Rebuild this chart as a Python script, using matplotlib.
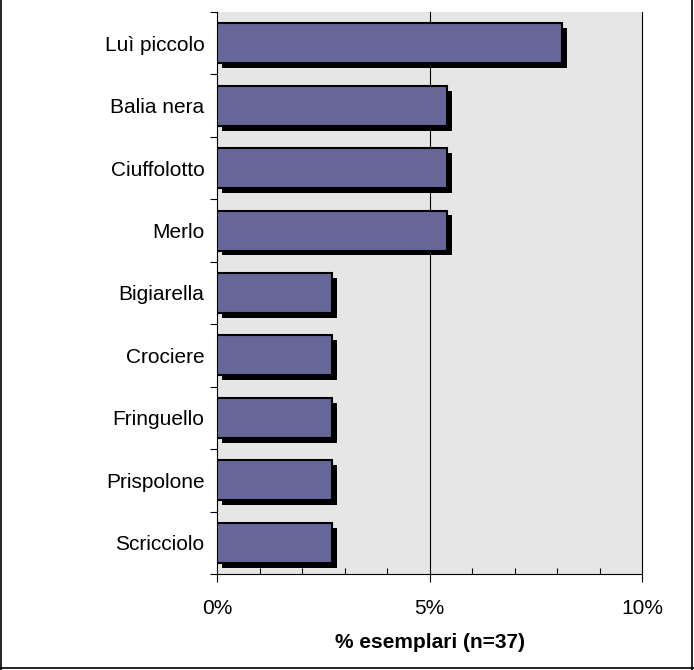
import matplotlib.pyplot as plt
import matplotlib.patheffects as pe
from matplotlib.lines import Line2D
from matplotlib.ticker import FuncFormatter, MultipleLocator
import numpy as np

plt.rcParams['font.family'] = ['Liberation Sans', 'DejaVu Sans']

# Species (top to bottom) and share of specimens (%), n=37
species = ["Luì piccolo", "Balia nera", "Ciuffolotto", "Merlo", "Bigiarella",
           "Crociere", "Fringuello", "Prispolone", "Scricciolo"]
percent = [8.11, 5.41, 5.41, 5.41, 2.70, 2.70, 2.70, 2.70, 2.70]
x_label = "% esemplari (n=37)"

fig = plt.figure(figsize=(6.94, 6.70), dpi=100)
ax = fig.add_axes([0.3127, 0.1433, 0.6124, 0.8388])
ax.set_facecolor('#e6e6e6')

pos = np.arange(len(species))
shadow = pe.withSimplePatchShadow(offset=(3.5, -3.5), shadow_rgbFace='black', alpha=1.0)
ax.barh(pos, percent, height=0.64, color='#666699', edgecolor='black',
        linewidth=1.5, zorder=3, path_effects=[shadow])

ax.set_xlim(0, 10)
ax.set_ylim(len(species) - 0.5, -0.5)

# vertical gridline at 5%
ax.axvline(5, color='black', linewidth=0.8, zorder=1)

ax.set_yticks(pos)
ax.set_yticklabels(species, fontsize=15)
ax.set_yticks(np.arange(-0.5, len(species), 1), minor=True)
ax.tick_params(axis='y', which='major', length=0, pad=9)
ax.tick_params(axis='y', which='minor', length=5, direction='out', width=0.8)

ax.xaxis.set_major_locator(MultipleLocator(5))
ax.xaxis.set_minor_locator(MultipleLocator(1))
ax.xaxis.set_major_formatter(FuncFormatter(lambda v, _: f"{v:.0f}%"))
ax.tick_params(axis='x', which='major', length=6, direction='out', width=0.8,
               labelsize=15, pad=12)
ax.tick_params(axis='x', which='minor', length=4, direction='in', width=0.8)
ax.set_xlabel(x_label, fontsize=15, fontweight='bold', labelpad=11)

ax.spines['top'].set_visible(False)
for side in ['left', 'right', 'bottom']:
    ax.spines[side].set_linewidth(0.8)

# outer frame of the picture (left, right, bottom)
fig.add_artist(Line2D([0.002, 0.002], [0, 1], color='black', linewidth=1.2))
fig.add_artist(Line2D([0.997, 0.997], [0, 1], color='black', linewidth=1.2))
fig.add_artist(Line2D([0, 1], [0.003, 0.003], color='black', linewidth=1.2))

fig.savefig('out.png', dpi=100)
